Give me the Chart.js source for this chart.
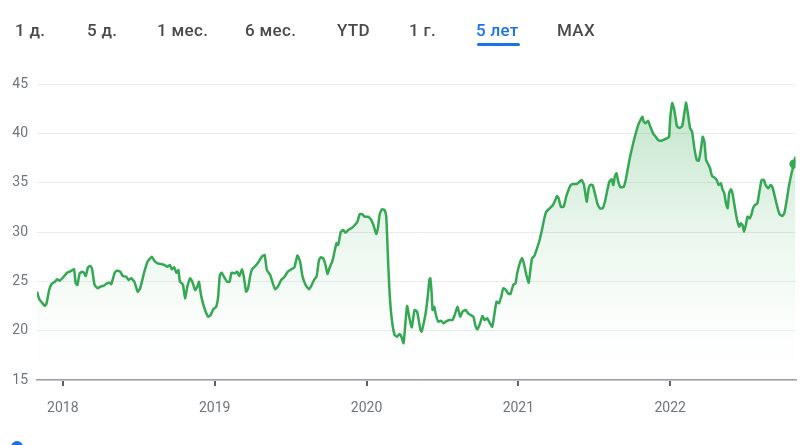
<!DOCTYPE html>
<html>
<head>
<meta charset="utf-8">
<script src="https://cdn.jsdelivr.net/npm/chart.js@4.4.1/dist/chart.umd.min.js"></script>
<style>
body { margin: 0; background: #fff; width: 800px; height: 445px; overflow: hidden; position: relative; font-family: Roboto, Arial, sans-serif; }
#chart { position: absolute; left: 0; top: 0; }
.tab { position: absolute; top: 19px; font-size: 17px; line-height: 22px; color: #4a4a4a; font-weight: 500; letter-spacing: 0.3px; white-space: nowrap; }
.tab.on { color: #1a73e8; }
#bar { position: absolute; left: 477px; top: 43px; width: 43px; height: 3px; border-radius: 2px; background: #1a73e8; }
#blue { position: absolute; left: 11px; top: 441px; width: 12px; height: 12px; border-radius: 50%; background: #1a73e8; }
</style>
</head>
<body>
<canvas id="chart" width="800" height="445"></canvas>
<div id="tabs"></div>
<div id="bar"></div>
<div id="blue"></div>
<script>
// range buttons on top
var tabLabels = ['1 д.', '5 д.', '1 мес.', '6 мес.', 'YTD', '1 г.', '5 лет', 'MAX'];
var tabLeft = [15, 87, 157, 245, 337, 409, 476, 557];
var activeTab = 6;

// x ticks (years)
var yearTicks = [2018, 2019, 2020, 2021, 2022];

// dates as decimal years
var years = [2017.83,2017.845,2017.867,2017.882,2017.893,2017.91,2017.926,2017.948,2017.963,2017.98,
2018.002,2018.028,2018.046,2018.064,2018.074,2018.085,2018.096,2018.111,2018.129,2018.139,
2018.151,2018.166,2018.183,2018.194,2018.209,2018.231,2018.247,2018.268,2018.29,2018.308,
2018.319,2018.34,2018.355,2018.378,2018.395,2018.417,2018.434,2018.45,2018.471,2018.493,
2018.509,2018.537,2018.558,2018.587,2018.602,2018.624,2018.646,2018.668,2018.689,2018.705,
2018.718,2018.733,2018.748,2018.761,2018.771,2018.784,2018.792,2018.805,2018.82,2018.838,
2018.853,2018.871,2018.886,2018.897,2018.908,2018.923,2018.941,2018.958,2018.974,2018.991,
2019.01,2019.023,2019.034,2019.046,2019.061,2019.082,2019.098,2019.111,2019.133,2019.148,
2019.163,2019.18,2019.192,2019.207,2019.22,2019.235,2019.246,2019.268,2019.29,2019.311,
2019.329,2019.344,2019.366,2019.383,2019.399,2019.416,2019.438,2019.46,2019.482,2019.504,
2019.525,2019.545,2019.563,2019.578,2019.599,2019.622,2019.639,2019.656,2019.671,2019.687,
2019.7,2019.715,2019.73,2019.743,2019.759,2019.774,2019.787,2019.802,2019.813,2019.831,
2019.846,2019.861,2019.879,2019.9,2019.923,2019.94,2019.955,2019.971,2019.988,2020.01,
2020.031,2020.049,2020.064,2020.075,2020.086,2020.101,2020.119,2020.13,2020.141,2020.152,
2020.167,2020.185,2020.202,2020.217,2020.228,2020.244,2020.254,2020.267,2020.283,2020.298,
2020.316,2020.333,2020.355,2020.363,2020.381,2020.391,2020.403,2020.414,2020.42,2020.429,
2020.435,2020.446,2020.457,2020.473,2020.49,2020.507,2020.522,2020.545,2020.566,2020.581,
2020.599,2020.617,2020.632,2020.653,2020.669,2020.686,2020.704,2020.719,2020.73,2020.748,
2020.763,2020.778,2020.795,2020.813,2020.828,2020.843,2020.856,2020.872,2020.887,2020.9,
2020.915,2020.931,2020.948,2020.966,2020.981,2020.992,2021.009,2021.025,2021.036,2021.053,
2021.068,2021.079,2021.09,2021.105,2021.123,2021.14,2021.155,2021.171,2021.184,2021.206,
2021.228,2021.243,2021.254,2021.265,2021.28,2021.298,2021.315,2021.33,2021.345,2021.363,
2021.385,2021.402,2021.417,2021.432,2021.45,2021.461,2021.472,2021.489,2021.504,2021.52,
2021.537,2021.555,2021.57,2021.586,2021.599,2021.614,2021.625,2021.635,2021.646,2021.658,
2021.673,2021.694,2021.707,2021.723,2021.738,2021.756,2021.773,2021.789,2021.804,2021.817,
2021.825,2021.838,2021.854,2021.869,2021.887,2021.904,2021.92,2021.941,2021.963,2021.978,
2021.992,2022.0,2022.013,2022.028,2022.044,2022.061,2022.079,2022.094,2022.105,2022.116,
2022.131,2022.144,2022.159,2022.175,2022.188,2022.203,2022.214,2022.225,2022.236,2022.247,
2022.262,2022.275,2022.29,2022.306,2022.319,2022.334,2022.345,2022.356,2022.367,2022.378,
2022.388,2022.399,2022.41,2022.421,2022.432,2022.443,2022.454,2022.465,2022.476,2022.486,
2022.498,2022.509,2022.524,2022.537,2022.545,2022.558,2022.574,2022.589,2022.602,2022.617,
2022.628,2022.646,2022.661,2022.672,2022.689,2022.705,2022.72,2022.738,2022.751,2022.764,
2022.781,2022.799,2022.814,2022.825];

// price
var prices = [23.95,23.18,22.77,22.50,22.77,24.12,24.73,24.96,25.21,25.06,
25.41,25.87,25.98,26.15,26.22,24.80,24.63,25.81,25.98,25.87,
25.54,26.42,26.55,26.15,24.63,24.29,24.46,24.53,24.80,24.86,
24.70,25.81,26.08,25.98,25.54,25.47,25.14,25.31,24.96,23.95,
24.29,25.98,26.99,27.50,27.09,26.83,26.76,26.66,26.48,26.66,
26.22,26.42,25.87,26.15,24.96,24.80,24.63,23.28,24.46,25.31,
24.96,24.12,24.46,24.96,23.79,22.77,21.92,21.42,21.59,22.17,
22.43,23.44,25.64,25.87,25.47,24.96,24.96,25.87,25.81,25.98,
25.54,26.22,25.47,23.95,24.29,25.64,26.22,26.55,26.99,27.50,
27.67,26.15,25.64,24.80,24.19,24.46,25.14,25.47,25.98,26.22,
26.42,27.62,26.99,25.54,24.63,24.19,24.63,25.21,25.47,27.16,
27.44,27.33,26.66,25.74,26.48,26.99,27.84,28.85,28.68,30.03,
30.20,29.93,30.20,30.37,30.71,31.04,31.82,31.82,31.55,31.55,
31.22,30.54,29.80,30.37,31.72,32.30,32.23,31.55,27.50,23.79,
21.08,19.56,19.39,19.66,19.46,18.72,20.40,22.50,21.25,20.34,
22.09,21.92,20.07,19.90,21.08,21.92,23.44,25.14,25.31,23.79,
22.09,22.43,21.59,20.91,21.01,20.75,20.91,21.08,21.08,21.59,
22.43,21.42,21.92,22.09,21.76,21.59,21.42,20.40,20.14,20.75,
21.49,21.08,21.25,20.75,20.40,21.76,22.94,22.77,23.44,24.29,
24.19,23.79,23.72,24.63,24.80,25.81,26.83,27.33,26.83,25.64,
24.86,26.15,27.33,27.57,28.35,29.19,30.20,31.39,32.06,32.40,
32.74,33.24,33.65,33.42,32.56,32.56,33.58,34.26,34.76,34.86,
34.86,35.10,35.27,34.76,33.07,34.26,34.76,34.76,33.92,32.91,
32.40,32.40,33.07,34.26,35.10,35.34,34.76,35.60,35.95,35.10,
34.53,34.59,35.27,36.62,37.80,38.99,40.00,40.84,41.35,41.69,
41.18,41.02,41.28,40.67,40.00,39.66,39.32,39.25,39.40,39.50,
39.63,41.55,43.07,42.26,40.74,40.54,40.74,42.19,43.12,42.03,
40.51,40.17,38.48,37.30,37.23,38.48,39.66,39.15,37.30,36.96,
36.46,35.68,35.54,35.27,34.76,34.94,34.26,33.92,32.91,32.40,
33.92,34.33,33.92,32.91,31.89,31.04,30.54,30.88,30.71,30.03,
30.71,31.55,31.39,31.89,32.40,32.74,32.91,34.26,35.27,35.27,
34.76,34.43,34.76,34.59,33.58,32.56,31.82,31.62,31.89,32.91,
34.59,35.95,36.89,37.63];

// the marked last point
var markYear = 2022.814;
var markPrice = 36.89;

var green = '#34a853';

var tabsDiv = document.getElementById('tabs');
for (var i = 0; i < tabLabels.length; i++) {
	var s = document.createElement('span');
	s.className = 'tab' + (i == activeTab ? ' on' : '');
	s.style.left = tabLeft[i] + 'px';
	s.textContent = tabLabels[i];
	tabsDiv.appendChild(s);
}

var points = [];
for (var i = 0; i < years.length; i++)
	points.push({ x: years[i], y: prices[i] });

function areaFill(c) {
	var ch = c.chart;
	var area = ch.chartArea;
	if (!area) return 'rgba(52,168,83,0.1)';
	var g = ch.ctx.createLinearGradient(0, area.top, 0, area.bottom);
	g.addColorStop(0, 'rgba(52,168,83,0.32)');
	g.addColorStop(0.5, 'rgba(52,168,83,0.1)');
	g.addColorStop(0.8, 'rgba(52,168,83,0.02)');
	g.addColorStop(1, 'rgba(52,168,83,0)');
	return g;
}

var font = { family: 'Roboto', size: 14 };

var ctx = document.getElementById('chart').getContext('2d');
var myChart = new Chart(ctx, {
	type: 'line',
	data: {
		datasets: [{
			data: points,
			borderColor: green,
			borderWidth: 2.5,
			backgroundColor: areaFill,
			fill: 'start',
			pointRadius: 0,
			tension: 0.15
		}, {
			data: [{ x: markYear, y: markPrice }],
			showLine: false,
			pointRadius: 4.5,
			pointBackgroundColor: green,
			pointBorderWidth: 0
		}]
	},
	options: {
		responsive: false,
		animation: false,
		events: [],
		layout: { padding: { top: 84, left: 0, right: 0, bottom: 0 } },
		plugins: { legend: { display: false }, tooltip: { enabled: false } },
		scales: {
			x: {
				type: 'linear',
				min: 2017.83,
				max: 2022.825,
				afterBuildTicks: function (s) { s.ticks = yearTicks.map(function (v) { return { value: v }; }); },
				afterFit: function (s) { s.height = 65; },
				grid: { drawOnChartArea: false, drawTicks: true, tickLength: 6, color: '#5f6368', lineWidth: 2 },
				border: { display: true, color: '#9aa0a6', width: 1.5 },
				ticks: { padding: 14, color: '#70757a', font: font, maxRotation: 0, autoSkip: false,
					callback: function (v) { return String(v); } }
			},
			y: {
				min: 15,
				max: 45,
				afterFit: function (s) { s.width = 37; },
				grid: { drawTicks: false, color: '#ebebeb', lineWidth: 1 },
				border: { display: false },
				ticks: { stepSize: 5, padding: 9, color: '#70757a', font: font }
			}
		}
	}
});
</script>
</body>
</html>
